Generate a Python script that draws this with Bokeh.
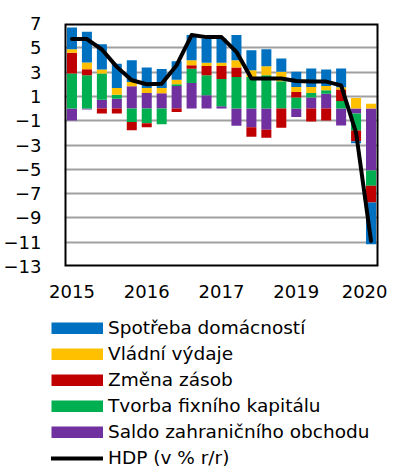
import numpy as np
from bokeh.plotting import figure
from bokeh.models import Range1d, FixedTicker, Legend, LegendItem, ColumnDataSource, LinearAxis
from bokeh.embed import file_html
from bokeh.resources import INLINE

# ---- data ----
quarters = list(range(21))
tick_positions = [0, 5, 10, 15, 20]
tick_labels = ["2015", "2016", "2017", "2019", "2020"]
y_ticks = list(range(-13, 8, 2))

spotreba = [1.79, 2.53, 2.09, 2.00, 1.79, 1.69, 1.55, 1.52, 2.07, 2.01, 2.01, 2.07, 1.65, 1.41, 1.10, 1.24, 1.51, 1.35, 1.53, -0.15, -3.44]
vladni = [0.30, 0.55, 0.33, 0.55, 0.36, 0.41, 0.45, 0.38, 0.41, 0.25, 0.25, 0.60, 0.55, 0.74, 0.77, 0.42, 0.50, 0.36, 0.20, 0.87, 0.40]
zasoby = [1.71, 0.50, -0.41, -0.41, -0.69, -0.33, 0.00, -0.29, 0.30, 0.77, 1.07, 0.78, -0.80, -0.66, -1.59, 0.46, -1.06, -0.98, 0.94, -0.90, -1.38]
kapital = [2.88, 2.74, 2.15, 0.33, -1.10, -1.20, -1.30, 0.14, 1.17, 1.65, 2.26, 2.60, 2.60, 2.74, 2.25, 0.90, 0.38, 0.28, 0.62, -1.40, -1.25]
saldo = [-0.98, -0.08, 0.73, 0.81, 1.83, 1.28, 1.25, 1.86, 2.10, 1.09, 0.18, -1.42, -1.53, -1.75, 0.00, -0.70, 0.90, 1.22, -1.39, -0.40, -5.10]
hdp = [5.72, 5.72, 4.86, 3.43, 2.33, 2.00, 2.05, 3.57, 6.05, 5.88, 5.88, 4.67, 2.47, 2.47, 2.47, 2.27, 2.22, 2.22, 1.91, -2.00, -10.90]

series_names = ["Spotřeba domácností", "Vládní výdaje", "Změna zásob", "Tvorba fixního kapitálu", "Saldo zahraničního obchodu"]
series_colors = ["#0070C0", "#FFC000", "#C00000", "#00B050", "#7030A0"]
series_values = [spotreba, vladni, zasoby, kapital, saldo]
hdp_name = "HDP (v % r/r)"

FONT = "DejaVu Sans"
X_LO, X_HI = -0.5, 20.5
Y_LO, Y_HI = -13, 7

# ---------------- main chart ----------------
p = figure(width=387, height=310, output_backend="svg", toolbar_location=None,
           x_range=Range1d(X_LO, X_HI), y_range=Range1d(Y_LO, Y_HI),
           x_axis_location=None, y_axis_location=None,
           min_border_left=55, min_border_right=9, min_border_top=23, min_border_bottom=44)

p.outline_line_color = None
p.background_fill_color = None
p.border_fill_color = None

p.xgrid.grid_line_color = None
p.ygrid.grid_line_color = "#a0a0a0"
p.ygrid.grid_line_width = 2
p.ygrid.ticker = FixedTicker(ticks=y_ticks)

xax = LinearAxis(ticker=FixedTicker(ticks=tick_positions),
                 major_label_overrides={pos: lab for pos, lab in zip(tick_positions, tick_labels)})
yax = LinearAxis(ticker=FixedTicker(ticks=y_ticks))
p.add_layout(xax, "below")
p.add_layout(yax, "left")
for ax in (xax, yax):
    ax.axis_line_color = None
    ax.major_tick_line_color = None
    ax.minor_tick_line_color = None
    ax.major_tick_out = 0
    ax.major_tick_in = 0
    ax.minor_tick_out = 0
    ax.minor_tick_in = 0
    ax.major_label_text_font = FONT
    ax.major_label_text_font_size = "18px"
    ax.major_label_text_color = "black"
yax.major_label_standoff = 23
xax.major_label_standoff = 18

# stacking order from zero outwards: saldo, kapital, zasoby, vladni, spotreba
stack_order = [4, 3, 2, 1, 0]
pos_base = np.zeros(len(quarters))
neg_base = np.zeros(len(quarters))
for idx in stack_order:
    vals = np.array(series_values[idx], dtype=float)
    pos = np.where(vals > 0, vals, 0.0)
    neg = np.where(vals < 0, vals, 0.0)
    bottom = np.where(vals >= 0, pos_base, neg_base)
    top = np.where(vals >= 0, pos_base + pos, neg_base + neg)
    pos_base = pos_base + pos
    neg_base = neg_base + neg
    src = ColumnDataSource(dict(x=quarters, bottom=bottom, top=top))
    p.vbar(x="x", bottom="bottom", top="top", width=0.67, source=src,
           fill_color=series_colors[idx], line_color=None)

p.line(quarters, hdp, line_color="black", line_width=4, line_join="round", line_cap="round")

# plot-area border traced along the range limits
p.line(x=[X_LO, X_HI, X_HI, X_LO, X_LO], y=[Y_HI, Y_HI, Y_LO, Y_LO, Y_HI],
       line_color="black", line_width=4, line_join="miter")

# ---------------- legend panel ----------------
lg = figure(width=387, height=158, output_backend="svg", toolbar_location=None,
            x_axis_type=None, y_axis_type=None,
            x_range=Range1d(100, 101), y_range=Range1d(100, 101),
            min_border_left=51, min_border_right=0, min_border_top=7, min_border_bottom=0)
lg.outline_line_color = None
lg.grid.visible = False
lg.background_fill_color = None
lg.border_fill_color = None

items = []
for i in range(5):
    r = lg.line(x=[0, 0], y=[0, 0], line_color=series_colors[i], line_width=12, line_cap="butt")
    items.append(LegendItem(label=series_names[i], renderers=[r]))
lr = lg.line(x=[0, 0], y=[0, 0], line_color="black", line_width=4, line_cap="round")
items.append(LegendItem(label=hdp_name, renderers=[lr]))

legend = Legend(items=items, location="top_left", orientation="vertical",
                glyph_width=52, glyph_height=12, label_height=20, spacing=5,
                label_standoff=5, padding=0, margin=0,
                border_line_color=None, background_fill_alpha=0,
                label_text_font=FONT, label_text_font_size="18.5px", label_text_color="black")
lg.add_layout(legend, "center")

open("out.html", "w").write(file_html([p, lg], INLINE))
